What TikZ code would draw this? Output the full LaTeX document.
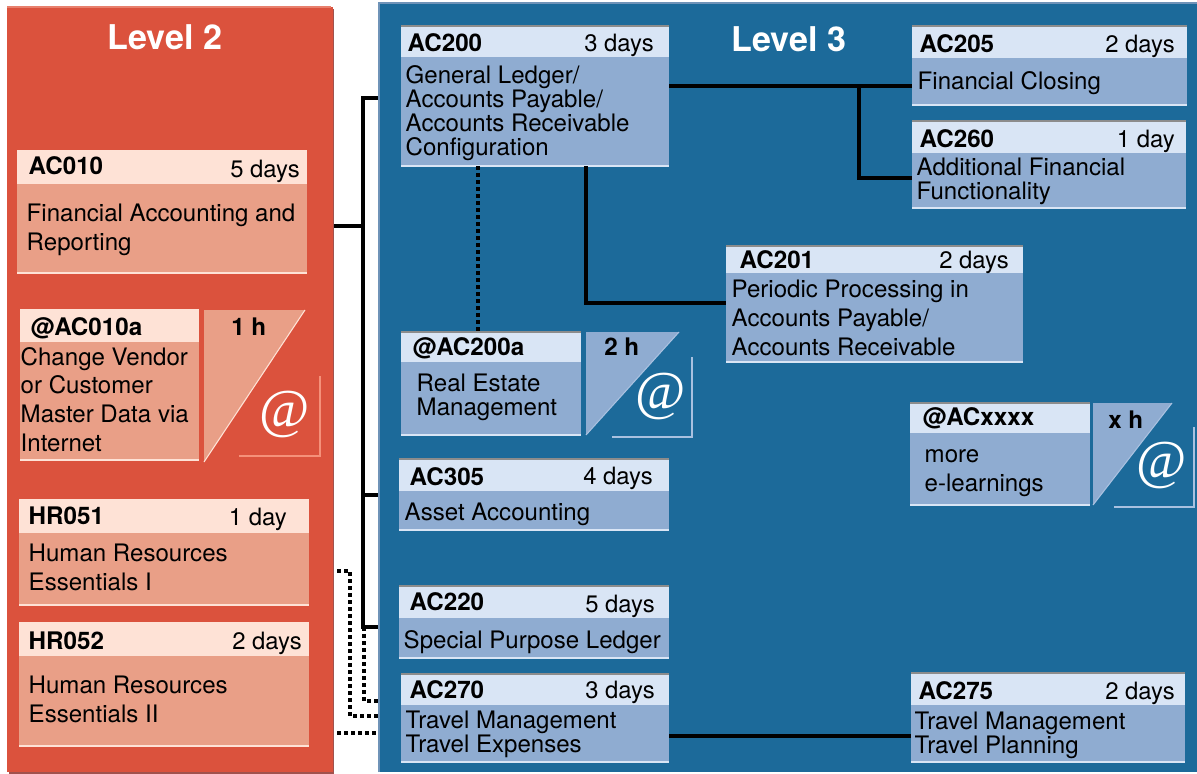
\documentclass[tikz,border=0pt]{standalone}
\usepackage{fontspec}
\setmainfont{TeX Gyre Heros}
\newfontfamily\atfont{Liberation Serif}
\usetikzlibrary{calc}
\pgfdeclarelayer{wires}
\pgfdeclarelayer{panels}
\pgfsetlayers{wires,panels,main}
\definecolor{redpanel}{HTML}{DB523D}
\definecolor{redbody}{HTML}{E99F87}
\definecolor{redhead}{HTML}{FEE2D6}
\definecolor{redline}{HTML}{F5917A}
\definecolor{redshade}{HTML}{A0524E}
\definecolor{redtop}{HTML}{E8806D}
\definecolor{bluepanel}{HTML}{1C6A9A}
\definecolor{bluebody}{HTML}{8FACD1}
\definecolor{bluehead}{HTML}{D9E5F5}
\definecolor{blueline}{HTML}{A9C1E0}
\definecolor{blueedge}{HTML}{6F93B8}
\tikzset{
  x=0.75pt,y=-0.75pt,
  rectbox/.style={inner sep=0pt,outer sep=0pt,anchor=north west,draw=none},
  headR/.style={rectbox,fill=redhead},
  bodyR/.style={rectbox,fill=redbody},
  headB/.style={rectbox,fill=bluehead},
  bodyB/.style={rectbox,fill=bluebody},
  toplineR/.style={draw=redhead,line width=1.5pt},
  toplineB/.style={draw=black!45,line width=1.5pt},
  botlineR/.style={draw=redhead,line width=1.5pt},
  botlineB/.style={draw=bluehead,line width=1.5pt},
  wire/.style={draw=black,line width=2.8pt,line cap=butt,line join=miter},
  dotwire/.style={draw=black,line width=3pt,dash pattern=on 3pt off 2.25pt},
  idtext/.style={inner sep=0pt,xshift=-0.4pt,anchor=base west,font=\bfseries\fontsize{18.15}{21}\selectfont},
  durtext/.style={inner sep=0pt,anchor=base east,font=\fontsize{17.9}{21}\selectfont},
  hourtext/.style={inner sep=0pt,anchor=base west,font=\bfseries\fontsize{18.15}{21}\selectfont},
  bodytext/.style={inner sep=0pt,xshift=-0.4pt,anchor=base west,align=left,font=\fontsize{18.05}{#1}\selectfont},
  bodytext/.default=18,
  leveltext/.style={inner sep=0pt,anchor=base,text=white,font=\bfseries\fontsize{25.6}{30}\selectfont},
  attext/.style={inner sep=0pt,text=white,font=\atfont\fontsize{41}{46}\selectfont},
}
% palette, name, x0, x1, ytop, ymid, ybot
\newcommand{\course}[7]{%
  \pgfmathsetlengthmacro{\bw}{(#4-#3)*0.75pt}%
  \pgfmathsetlengthmacro{\hh}{(#6-#5)*0.75pt}%
  \pgfmathsetlengthmacro{\bh}{(#7-#6)*0.75pt}%
  \node[head#1,minimum width=\bw,minimum height=\hh] (#2-head) at (#3,#5) {};
  \node[body#1,minimum width=\bw,minimum height=\bh] (#2) at (#3,#6) {};
  \draw[topline#1] (#3,#5) -- (#4,#5);
  \draw[botline#1] (#3,#7) -- (#4,#7);
}
% fill, line, x0, ytop, x1, ybot
\newcommand{\wedgeshape}[6]{%
  \fill[#1] (#3,#4) -- (#5,#4) -- (#3,#6) -- cycle;
  \draw[#2,line width=0.8pt] (#5,#4) -- (#3,#6);
}
% line, corner x, corner y, left end x, top end y
\newcommand{\ellshape}[5]{%
  \draw[#1,line width=2.2pt] (#4,#3) -- (#2,#3) -- (#2,#5);
}
\begin{document}
\begin{tikzpicture}
\useasboundingbox (0,0) rectangle (1197,774);
% panels
\begin{pgfonlayer}{panels}
  \fill[redshade] (9,9) rectangle (334,774);
  \node[rectbox,fill=redpanel,minimum width=244.5pt,minimum height=573.75pt] (L2) at (7,7) {};
  \draw[redtop,line width=1pt] (7,7) -- (331,7);
  \node[rectbox,fill=bluepanel,minimum width=613.5pt,minimum height=577.5pt] (L3) at (379,2) {};
  \draw[blueedge,line width=1pt] (379,772) -- (379,3) -- (1197,3);
\end{pgfonlayer}
% Level 2 boxes
\course{R}{AC010}{17}{307}{151}{184}{273}
\course{R}{AC010a}{20}{199}{310}{342}{460}
\course{R}{HR051}{19}{309}{500}{533}{605}
\course{R}{HR052}{19}{309}{623}{656}{746}
\wedgeshape{redbody}{redhead}{204}{310}{305}{462}
\ellshape{redline}{320}{456}{239}{376}
% Level 3 boxes
\course{B}{AC200}{401}{669}{26}{57}{166}
\course{B}{AC205}{912}{1187}{26}{58}{105}
\course{B}{AC260}{912}{1186}{121}{153}{208}
\course{B}{AC201}{726}{1023}{246}{273}{362}
\course{B}{AC200a}{401}{581}{332}{362}{435}
\course{B}{AC305}{399}{669}{459}{491}{530}
\course{B}{AC220}{399}{669}{586}{618}{658}
\course{B}{AC270}{401}{669}{674}{705}{762}
\course{B}{AC275}{911}{1185}{673}{705}{762}
\course{B}{ACxxxx}{910}{1090}{403}{433}{505}
\wedgeshape{bluebody}{blueline}{586}{332}{679}{435}
\ellshape{blueline}{692}{437}{612}{357}
\wedgeshape{bluebody}{blueline}{1093}{403}{1172}{505}
\ellshape{blueline}{1194}{507}{1114}{427}
% junctions
\coordinate (tTop) at (363,98);
\coordinate (tA) at (363,226);
\coordinate (tB) at (363,495);
\coordinate (tC) at (363,627);
\coordinate (dA1) at (350,571);
\coordinate (dA2) at (350,716);
\coordinate (dB2) at (364,701);
\coordinate (dC) at (350,733);
\coordinate (cA) at (859,86);
\coordinate (cB) at (859,178);
\coordinate (cC) at (586,303);
\coordinate (cD) at (790,736);
\coordinate (cE) at (478,250);
% connectors under the panels
\begin{pgfonlayer}{wires}
  \draw[wire] (AC200.west |- tTop) -- (tTop) -- (tC) -- (AC220.west |- tC);
  \draw[wire] (AC010.east |- tA) -- (tA);
  \draw[wire] (tB) -- (AC305.west |- tB);
  \draw[dotwire] (HR051.east |- dA1) -- (dA1) -- (dA2) -- (AC270.west |- dA2);
  \draw[dotwire] (tC -| dB2) -- (dB2) -- (AC270.west |- dB2);
  \draw[dotwire] (HR052.east |- dC) -- (AC270.west |- dC);
\end{pgfonlayer}
% connectors on the blue panel
\draw[wire] (AC200.east |- cA) -- (AC205.west |- cA);
\draw[wire] (cA) -- (cB) -- (AC260.west |- cB);
\draw[wire] (AC200.south -| cC) -- (cC) -- (AC201.west |- cC);
\draw[wire] (AC270.east |- cD) -- (AC275.west |- cD);
\draw[dotwire] (AC200.south -| cE) -- (AC200a-head.north -| cE);
% titles
\node[leveltext] (tL2) at (165,50) {Level 2};
\node[leveltext] (tL3) at (789,52) {Level 3};
% Level 2 text
\node[idtext] (t1) at (29,175) {AC010};
\node[durtext] (t2) at (300,177) {5 days};
\node[bodytext=21.4] (t3) at (27,250) {Financial Accounting and\\Reporting};
\node[idtext] (t4) at (31,335) {@AC010a};
\node[hourtext] (t5) at (231,335) {1 h};
\node[bodytext=21.4] (t6) at (21,451) {Change Vendor\\or Customer\\Master Data via\\Internet};
\node[attext] (t7) at (285,414) {@};
\node[idtext] (t8) at (29,524) {HR051};
\node[durtext] (t9) at (287,525) {1 day};
\node[bodytext=21.4] (t10) at (29,590) {Human Resources\\Essentials I};
\node[idtext] (t11) at (29,649) {HR052};
\node[durtext] (t12) at (302,649) {2 days};
\node[bodytext=21.4] (t13) at (29,722) {Human Resources\\Essentials II};
% Level 3 text
\node[idtext] (u1) at (408,52) {AC200};
\node[durtext] (u2) at (654,52) {3 days};
\node[bodytext=18] (u3) at (406,155.5) {General Ledger/\\Accounts Payable/\\Accounts Receivable\\Configuration};
\node[idtext] (u4) at (920,53) {AC205};
\node[durtext] (u5) at (1175,53) {2 days};
\node[bodytext] (u6) at (918,90) {Financial Closing};
\node[idtext] (u7) at (920,147) {AC260};
\node[durtext] (u8) at (1175,147) {1 day};
\node[bodytext=18] (u9) at (917,199.5) {Additional Financial\\Functionality};
\node[idtext] (u10) at (740,268) {AC201};
\node[durtext] (u11) at (1009,268) {2 days};
\node[bodytext=21.4] (u12) at (732,355) {Periodic Processing in\\Accounts Payable/\\Accounts Receivable};
\node[idtext] (u13) at (413,355) {@AC200a};
\node[hourtext] (u14) at (604,355) {2 h};
\node[bodytext=18] (u15) at (417,415) {Real Estate\\Management};
\node[attext] (u16) at (661,396) {@};
\node[idtext] (u17) at (410,485) {AC305};
\node[durtext] (u18) at (653,484) {4 days};
\node[bodytext] (u19) at (405,520) {Asset Accounting};
\node[idtext] (u20) at (410,610) {AC220};
\node[durtext] (u21) at (655,612) {5 days};
\node[bodytext] (u22) at (404,648) {Special Purpose Ledger};
\node[idtext] (u23) at (410,698) {AC270};
\node[durtext] (u24) at (655,698) {3 days};
\node[bodytext=18] (u25) at (406,752) {Travel Management\\Travel Expenses};
\node[idtext] (u26) at (919,699) {AC275};
\node[durtext] (u27) at (1175,699) {2 days};
\node[bodytext=18] (u28) at (915,753) {Travel Management\\Travel Planning};
\node[idtext] (u29) at (923,425) {@ACxxxx};
\node[hourtext] (u30) at (1108,428) {x h};
\node[bodytext=21.4] (u31) at (925,491) {more\\e-learnings};
\node[attext] (u32) at (1162,465) {@};
\end{tikzpicture}
\end{document}
